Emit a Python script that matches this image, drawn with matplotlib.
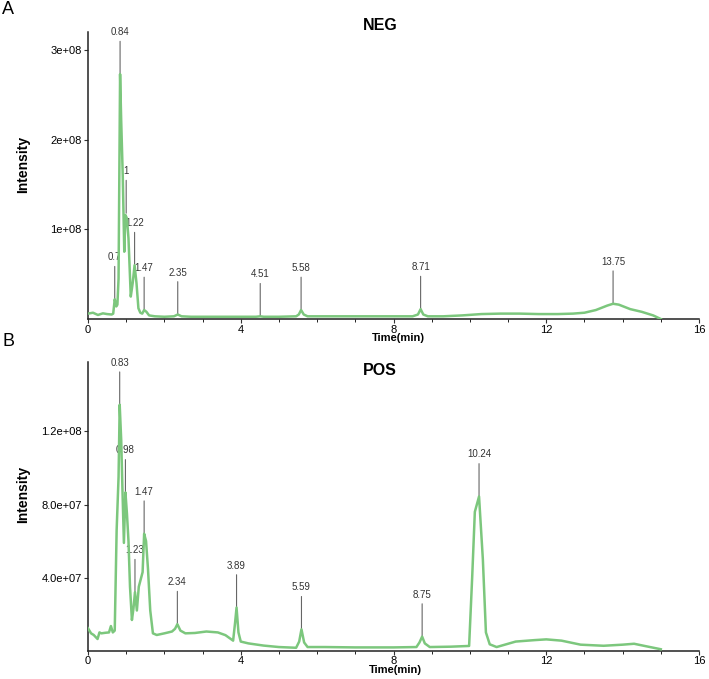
import matplotlib
matplotlib.use("Agg")
import matplotlib.pyplot as plt
from matplotlib.ticker import MultipleLocator

plt.rcParams['font.family'] = ['Liberation Sans', 'DejaVu Sans']

# ---------------- data ----------------
neg_time = [0, 0.13, 0.26, 0.39, 0.5, 0.62, 0.66, 0.70, 0.74, 0.77,
            0.80, 0.84, 0.87, 0.91, 0.95, 0.98, 1.02, 1.06, 1.12, 1.17,
            1.22, 1.27, 1.32, 1.37, 1.42, 1.47, 1.53, 1.60, 1.75, 2.0,
            2.25, 2.35, 2.45, 2.7, 3.5, 4.4, 4.51, 4.6, 5.0, 5.45,
            5.52, 5.58, 5.65, 5.75, 6.5, 7.5, 8.5, 8.64, 8.71, 8.78,
            8.9, 9.3, 9.8, 10.3, 10.8, 11.3, 11.8, 12.3, 12.7, 13.0,
            13.3, 13.6, 13.75, 13.9, 14.2, 14.5, 14.8, 15.0]
neg_int = [0.06, 0.07, 0.045, 0.063, 0.055, 0.05, 0.06, 0.22, 0.14, 0.16,
           0.45, 2.73, 2.2, 1.6, 0.75, 1.16, 1.12, 0.9, 0.25, 0.40,
           0.60, 0.40, 0.12, 0.07, 0.06, 0.10, 0.08, 0.04, 0.03, 0.025,
           0.03, 0.05, 0.03, 0.025, 0.025, 0.025, 0.03, 0.025, 0.025, 0.03,
           0.05, 0.10, 0.05, 0.03, 0.03, 0.03, 0.03, 0.05, 0.11, 0.05,
           0.03, 0.03, 0.04, 0.055, 0.06, 0.06, 0.055, 0.055, 0.06, 0.07,
           0.10, 0.15, 0.17, 0.16, 0.11, 0.08, 0.04, 0.0]  # x 1e8

pos_time = [0, 0.08, 0.15, 0.25, 0.30, 0.35, 0.45, 0.55, 0.60, 0.65,
            0.70, 0.75, 0.80, 0.83, 0.87, 0.90, 0.94, 0.98, 1.02, 1.06,
            1.10, 1.15, 1.19, 1.23, 1.28, 1.33, 1.38, 1.43, 1.47, 1.52,
            1.57, 1.63, 1.70, 1.80, 2.0, 2.2, 2.28, 2.34, 2.42, 2.55,
            2.8, 3.1, 3.4, 3.6, 3.80, 3.85, 3.89, 3.94, 4.0, 4.2,
            4.6, 5.0, 5.45, 5.53, 5.59, 5.66, 5.75, 6.2, 7.0, 8.0,
            8.6, 8.68, 8.75, 8.82, 8.95, 9.5, 9.98, 10.06, 10.13, 10.24,
            10.34, 10.42, 10.52, 10.7, 11.2, 11.7, 12.0, 12.4, 12.9, 13.5,
            14.0, 14.3, 14.6, 15.0]
pos_int = [1.23, 0.95, 0.86, 0.64, 1.0, 0.95, 0.98, 1.0, 1.35, 1.0,
           1.1, 6.6, 9.5, 13.46, 11.5, 9.0, 5.9, 8.66, 7.5, 6.0,
           3.5, 1.68, 2.3, 3.2, 2.2, 3.5, 3.9, 4.3, 6.4, 6.0,
           4.5, 2.2, 0.95, 0.86, 0.95, 1.05, 1.2, 1.45, 1.1, 0.95,
           0.97, 1.05, 1.0, 0.85, 0.55, 1.5, 2.36, 1.0, 0.5, 0.4,
           0.28, 0.2, 0.16, 0.5, 1.17, 0.45, 0.2, 0.2, 0.18, 0.18,
           0.2, 0.45, 0.77, 0.4, 0.2, 0.22, 0.26, 4.0, 7.6, 8.44,
           5.0, 1.0, 0.35, 0.2, 0.5, 0.58, 0.62, 0.55, 0.33, 0.27,
           0.33, 0.38, 0.25, 0.08]  # x 1e7

neg_peak_labels = ['0.7', '0.84', '1', '1.22', '1.47', '2.35', '4.51', '5.58', '8.71', '13.75']
neg_peak_time = [0.70, 0.84, 1.0, 1.22, 1.47, 2.35, 4.51, 5.58, 8.71, 13.75]
neg_peak_int = [0.22, 2.73, 1.18, 0.60, 0.10, 0.05, 0.03, 0.10, 0.11, 0.17]  # x 1e8

pos_peak_labels = ['0.83', '0.98', '1.23', '1.47', '2.34', '3.89', '5.59', '8.75', '10.24']
pos_peak_time = [0.83, 0.98, 1.23, 1.47, 2.34, 3.89, 5.59, 8.75, 10.24]
pos_peak_int = [13.46, 8.66, 3.2, 6.4, 1.45, 2.36, 1.17, 0.77, 8.44]  # x 1e7

neg_yticks = [1e8, 2e8, 3e8]
neg_yticklabels = ['1e+08', '2e+08', '3e+08']
pos_yticks = [4e7, 8e7, 1.2e8]
pos_yticklabels = ['4.0e+07', '8.0e+07', '1.2e+08']
xticks = [0, 4, 8, 12, 16]

GREEN = '#7cc77d'
W, H = 709, 679
fig = plt.figure(figsize=(W / 100, H / 100), dpi=100)


def make_axes(top_px, bottom_px):
    left, right = 88, 699
    return fig.add_axes([left / W, 1 - bottom_px / H, (right - left) / W, (bottom_px - top_px) / H])


def draw(ax, t, v, scale, ymax, yticks, yticklabels, pk_lab, pk_t, pk_v):
    ax.plot(t, [x * scale for x in v], color=GREEN, lw=1.8, zorder=3, solid_joinstyle='round')
    for lab, pt, pv in zip(pk_lab, pk_t, pk_v):
        ax.annotate(lab, xy=(pt, pv * scale), xytext=(0, 37), textcoords='offset pixels',
                    ha='center', va='bottom', fontsize=7, color='#333333',
                    arrowprops=dict(arrowstyle='-', color='#666666', lw=0.8,
                                    shrinkA=1, shrinkB=0), zorder=2)
    ax.set_xlim(0, 16)
    ax.set_ylim(0, ymax)
    ax.set_xticks(xticks)
    ax.xaxis.set_minor_locator(MultipleLocator(1))
    ax.set_yticks(yticks)
    ax.set_yticklabels(yticklabels)
    ax.tick_params(axis='both', labelsize=8, length=3, width=0.8, color='#333333', pad=1.5)
    ax.tick_params(axis='x', pad=1)
    ax.tick_params(axis='x', which='minor', length=2.5, width=0.6)
    for s in ['top', 'right']:
        ax.spines[s].set_visible(False)
    for s in ['left', 'bottom']:
        ax.spines[s].set_linewidth(1.1)
        ax.spines[s].set_color('#222222')
    ax.set_ylabel('Intensity', fontsize=10, fontweight='bold', labelpad=8)
    ax.set_xlabel('Time(min)', fontsize=8, fontweight='bold')
    ax.patch.set_alpha(0)


axA = make_axes(32, 319)
draw(axA, neg_time, neg_int, 1e8, 3.2e8, neg_yticks, neg_yticklabels,
     neg_peak_labels, neg_peak_time, neg_peak_int)
axB = make_axes(362, 650.7)
draw(axB, pos_time, pos_int, 1e7, 1.58e8, pos_yticks, pos_yticklabels,
     pos_peak_labels, pos_peak_time, pos_peak_int)
axA.xaxis.set_label_coords(0.508, -0.05)
axB.xaxis.set_label_coords(0.503, -0.05)
axA.yaxis.set_label_coords(-0.095, 0.54)
axB.yaxis.set_label_coords(-0.095, 0.54)

fig.text(380 / W, 1 - 25 / H, 'NEG', fontsize=11.5, fontweight='bold', ha='center', va='center')
fig.text(380 / W, 1 - 371 / H, 'POS', fontsize=11.5, fontweight='bold', ha='center', va='center')
fig.text(2 / W, 1 - 9 / H, 'A', fontsize=13, ha='left', va='center')
fig.text(2 / W, 1 - 342 / H, 'B', fontsize=13, ha='left', va='center')

fig.savefig('out.png', dpi=100)
